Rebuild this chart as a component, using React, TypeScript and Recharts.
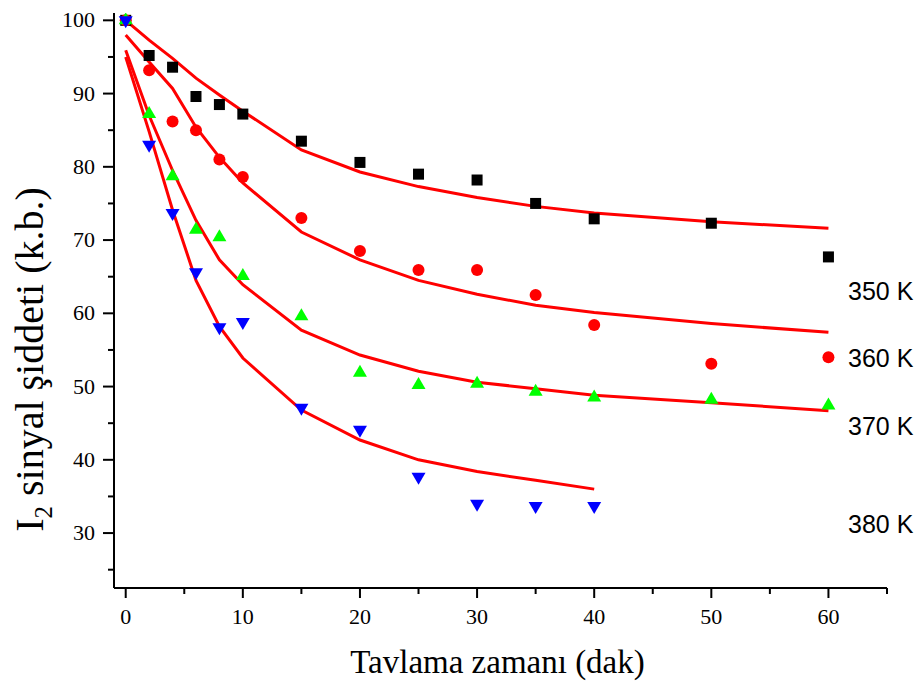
import React from 'react';
import { ComposedChart, Line, Scatter, XAxis, YAxis, Label } from 'recharts';

// annealing time (min)
const times = [0, 2, 4, 6, 8, 10, 15, 20, 25, 30, 35, 40, 50, 60];
const times380 = [0, 2, 4, 6, 8, 10, 15, 20, 25, 30, 35, 40];

// measured I2 signal (a.u.)
const k350 = [100, 95.2, 93.6, 89.6, 88.5, 87.2, 83.5, 80.6, 79.0, 78.2, 75.0, 72.9, 72.3, 67.7];
const k360 = [100, 93.2, 86.2, 85.0, 81.0, 78.6, 73.0, 68.5, 65.9, 65.9, 62.5, 58.4, 53.1, 54.0];
const k370 = [100, 87.2, 78.7, 71.4, 70.4, 65.1, 59.6, 51.9, 50.2, 50.4, 49.3, 48.5, 48.2, 47.4];
const k380 = [100, 83.0, 73.7, 65.6, 58.1, 58.8, 47.1, 44.1, 37.7, 34.0, 33.7, 33.7];

// fitted curves
const fit350 = [100, 97.3, 94.8, 92.1, 89.8, 87.6, 82.3, 79.3, 77.3, 75.8, 74.6, 73.7, 72.5, 71.6];
const fit360 = [98.0, 94.3, 90.7, 85.4, 81.3, 77.8, 71.1, 67.3, 64.5, 62.6, 61.1, 60.1, 58.6, 57.4];
const fit370 = [95.9, 87.0, 79.5, 72.7, 67.3, 63.9, 57.7, 54.3, 52.1, 50.6, 49.7, 48.8, 47.8, 46.7];
const fit380 = [95.0, 84.8, 74.1, 64.5, 58.2, 53.9, 46.8, 42.7, 40.0, 38.4, 37.2, 36.0];

const tempLabels = ['350 K', '360 K', '370 K', '380 K'];

const xTicks = [0, 5, 10, 15, 20, 25, 30, 35, 40, 45, 50, 55, 60, 65];
const yTicks = [25, 30, 35, 40, 45, 50, 55, 60, 65, 70, 75, 80, 85, 90, 95, 100];

const toPoints = (xs: number[], vs: number[]) => xs.map((t, i) => ({ t, v: vs[i] }));

const serif = '"Liberation Serif", "Times New Roman", serif';

const XTick = (props: any) => {
  const { x, y, payload } = props;
  const major = payload.value % 10 === 0;
  return (
    <g>
      <line x1={x} y1={y} x2={x} y2={y + (major ? 10 : 6)} stroke="#000" strokeWidth={2} />
      {major && (
        <text x={x} y={y + 36} textAnchor="middle" fontFamily={serif} fontSize={22} fill="#000">
          {payload.value}
        </text>
      )}
    </g>
  );
};

const YTick = (props: any) => {
  const { x, y, payload } = props;
  const major = payload.value % 10 === 0;
  return (
    <g>
      <line x1={x - (major ? 11 : 6)} y1={y} x2={x} y2={y} stroke="#000" strokeWidth={2} />
      {major && (
        <text x={x - 19} y={y + 7} textAnchor="end" fontFamily={serif} fontSize={22} fill="#000">
          {payload.value}
        </text>
      )}
    </g>
  );
};

const Square = (p: any) => <rect x={p.cx - 5.5} y={p.cy - 5.5} width={11} height={11} fill="#000" />;
const Circle = (p: any) => <circle cx={p.cx} cy={p.cy} r={6} fill="#ff0000" />;
const TriUp = (p: any) => (
  <path d={`M${p.cx},${p.cy - 8} L${p.cx + 7},${p.cy + 4} L${p.cx - 7},${p.cy + 4} Z`} fill="#00ff00" />
);
const TriDown = (p: any) => (
  <path d={`M${p.cx},${p.cy + 8} L${p.cx + 7},${p.cy - 4} L${p.cx - 7},${p.cy - 4} Z`} fill="#0000ff" />
);

const labelTops = [271, 338, 406, 504];

export default function App() {
  return (
    <div style={{ position: 'relative', width: 915, height: 674 }}>
      <ComposedChart width={915} height={674} margin={{ top: 5, right: 36, left: 0, bottom: 0 }}>
        <XAxis
          dataKey="t"
          type="number"
          domain={[-1, 65]}
          ticks={xTicks}
          allowDataOverflow
          height={94}
          tickSize={0}
          tickMargin={0}
          tickLine={false}
          axisLine={{ stroke: '#000', strokeWidth: 2 }}
          tick={<XTick />}
          interval={0}
        >
          <Label
            content={(p: any) => {
              const vb = p.viewBox;
              return (
                <text x={vb.x + vb.width / 2 - 3} y={vb.y + 85} textAnchor="middle" fontFamily={serif} fontSize={33} fill="#000">
                  Tavlama zamanı (dak)
                </text>
              );
            }}
          />
        </XAxis>
        <YAxis
          type="number"
          domain={[22.5, 101]}
          ticks={yTicks}
          allowDataOverflow
          width={106}
          tickSize={0}
          tickMargin={0}
          tickLine={false}
          axisLine={{ stroke: '#000', strokeWidth: 2 }}
          tick={<YTick />}
          interval={0}
        >
          <Label
            content={(p: any) => {
              const vb = p.viewBox;
              const cx = vb.x + 35;
              const cy = vb.y + vb.height / 2 + 59;
              return (
                <text transform={`translate(${cx},${cy}) rotate(-90)`} textAnchor="middle" fontFamily={serif} fontSize={40} fill="#000">
                  I<tspan fontSize={25} dy={9}>2</tspan>
                  <tspan dy={-9}> sinyal şiddeti (k.b.)</tspan>
                </text>
              );
            }}
          />
        </YAxis>

        <Scatter data={toPoints(times, k350)} dataKey="v" shape={Square} isAnimationActive={false} />
        <Scatter data={toPoints(times, k360)} dataKey="v" shape={Circle} isAnimationActive={false} />
        <Scatter data={toPoints(times, k370)} dataKey="v" shape={TriUp} isAnimationActive={false} />
        <Scatter data={toPoints(times380, k380)} dataKey="v" shape={TriDown} isAnimationActive={false} />

        <Line data={toPoints(times, fit350)} dataKey="v" type="linear" stroke="#ff0000" strokeWidth={3} dot={false} isAnimationActive={false} />
        <Line data={toPoints(times, fit360)} dataKey="v" type="linear" stroke="#ff0000" strokeWidth={3} dot={false} isAnimationActive={false} />
        <Line data={toPoints(times, fit370)} dataKey="v" type="linear" stroke="#ff0000" strokeWidth={3} dot={false} isAnimationActive={false} />
        <Line data={toPoints(times380, fit380)} dataKey="v" type="linear" stroke="#ff0000" strokeWidth={3} dot={false} isAnimationActive={false} />
      </ComposedChart>
      {tempLabels.map((t, i) => (
        <span
          key={t}
          style={{
            position: 'absolute',
            left: 840,
            top: labelTops[i],
            fontFamily: '"Liberation Sans", Arial, sans-serif',
            fontSize: 25,
            lineHeight: 1,
            color: '#000',
            whiteSpace: 'nowrap',
          }}
        >
          {t}
        </span>
      ))}
    </div>
  );
}
